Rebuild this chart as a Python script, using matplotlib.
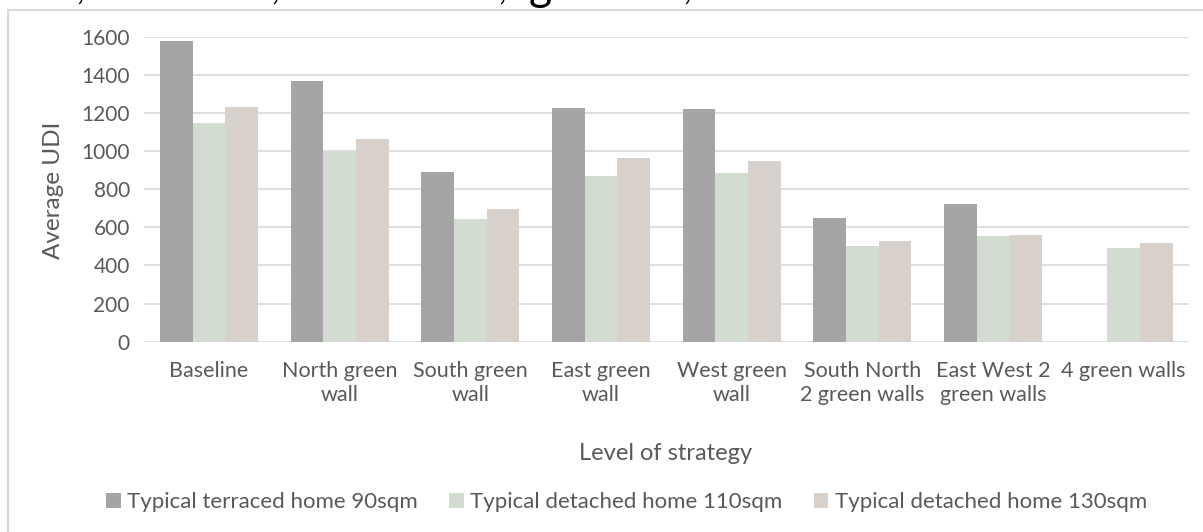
import matplotlib.pyplot as plt
from matplotlib.lines import Line2D
import numpy as np

plt.rcParams['font.family'] = ['Lato', 'DejaVu Sans']

strategies = ['Baseline', 'North green\nwall', 'South green\nwall', 'East green\nwall',
              'West green\nwall', 'South North\n2 green walls', 'East West 2\ngreen walls',
              '4 green walls']
series_names = ['Typical terraced home 90sqm', 'Typical detached home 110sqm',
                'Typical detached home 130sqm']
terraced_90 = [1580, 1368, 889, 1224, 1219, 651, 721, np.nan]
detached_110 = [1146, 1002, 644, 869, 883, 504, 556, 493]
detached_130 = [1230, 1063, 695, 962, 950, 528, 560, 516]
yticks = [0, 200, 400, 600, 800, 1000, 1200, 1400, 1600]

colors = ['#a5a5a5', '#d3dcd0', '#d7d0cb']
text_col = '#595959'
grid_col = '#d9d9d9'

W, H = 1203, 532
fig = plt.figure(figsize=(W / 100, H / 100), dpi=100)
ax = fig.add_axes([143.7 / W, 1 - 341.7 / H, (1189 - 143.7) / W, (341.7 - 36.7) / H])

x = np.arange(len(strategies))
bw = 0.25
for k, vals in enumerate([terraced_90, detached_110, detached_130]):
    ax.bar(x + (k - 1) * bw, vals, width=bw, color=colors[k], label=series_names[k], zorder=3)

ax.set_xlim(-0.5, len(strategies) - 0.5)
ax.set_ylim(0, 1600)
ax.set_yticks(yticks)
ax.set_yticklabels([str(t) for t in yticks], fontsize=15, color=text_col)
ax.set_xticks(x)
ax.set_xticklabels(strategies, fontsize=15.5, color=text_col, linespacing=1.25)
ax.tick_params(axis='both', length=0)
ax.tick_params(axis='y', pad=10)
ax.tick_params(axis='x', pad=14)
ax.yaxis.grid(True, color=grid_col, linewidth=1.2, zorder=0)
for s in ax.spines.values():
    s.set_visible(False)

fig.text(53 / W, 1 - 190 / H, 'Average UDI', rotation=90, fontsize=17.5, color=text_col,
         ha='center', va='center')
fig.text(666 / W, 1 - 453 / H, 'Level of strategy', fontsize=17, color=text_col,
         ha='center', va='center')

fig.legend(loc='center', bbox_to_anchor=(626.5 / W, 1 - 502 / H), ncol=3, frameon=False,
           fontsize=16, labelcolor=text_col, handlelength=0.65, handleheight=0.65,
           handletextpad=0.3, columnspacing=1.4)

# outer chart frame (top and left edges)
fig.add_artist(Line2D([8 / W, 1], [1 - 10 / H, 1 - 10 / H], color='#d9d9d9', lw=1.5))
fig.add_artist(Line2D([8 / W, 8 / W], [0, 1 - 10 / H], color='#d9d9d9', lw=1.5))

# descenders of the line of text above the chart
for px, ch, fs in [(80, ',', 24), (275, ',', 24), (502, ',', 24), (540, 'g', 32), (687, ',', 24)]:
    fig.text(px / W, 1.0, ch, fontsize=fs, color='black', ha='center', va='baseline')

fig.savefig('out.png', dpi=100)
